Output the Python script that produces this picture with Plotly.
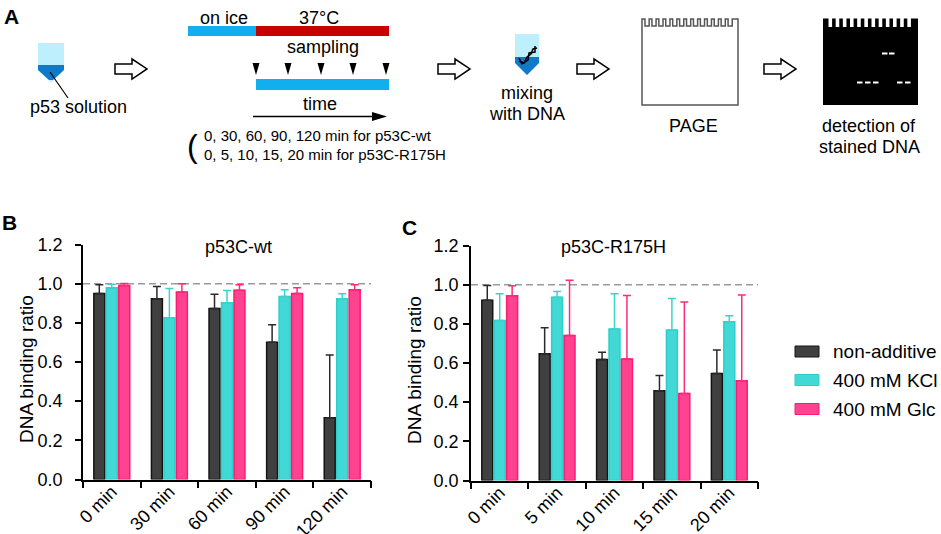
import plotly.graph_objects as go

# figure geometry (pixels) -- everything in panel A is placed in px then mapped to paper
W, H = 941, 534

# ---- data (panels B and C) ----
series_names = ["non-additive", "400 mM KCl", "400 mM Glc"]

cats_wt = ["0 min", "30 min", "60 min", "90 min", "120 min"]
cats_r175h = ["0 min", "5 min", "10 min", "15 min", "20 min"]

wt_non = [0.950, 0.923, 0.873, 0.701, 0.315]
wt_non_err = [0.044, 0.063, 0.073, 0.089, 0.321]
wt_kcl = [0.979, 0.826, 0.902, 0.934, 0.923]
wt_kcl_err = [0.018, 0.149, 0.063, 0.035, 0.026]
wt_glc = [0.991, 0.958, 0.967, 0.950, 0.969]
wt_glc_err = [0.010, 0.041, 0.027, 0.029, 0.026]

r175h_non = [0.921, 0.647, 0.618, 0.458, 0.546]
r175h_non_err = [0.075, 0.133, 0.037, 0.078, 0.121]
r175h_kcl = [0.817, 0.936, 0.774, 0.769, 0.811]
r175h_kcl_err = [0.136, 0.029, 0.179, 0.160, 0.030]
r175h_glc = [0.943, 0.740, 0.621, 0.444, 0.509]
r175h_glc_err = [0.051, 0.283, 0.324, 0.468, 0.438]

y_ticks = [0.0, 0.2, 0.4, 0.6, 0.8, 1.0, 1.2]

# styles
FILL = ["#404040", "#42D8D5", "#FF4390"]
EDGE = ["#141414", "#2CCFCB", "#FF1A70"]
ERR = ["#2a2a2a", "#3AD2CE", "#FF2A78"]
FONT = "Liberation Sans, Arial, sans-serif"


def px(x):
    return x / W


def py(y):
    return 1 - y / H


def path(points, close=True):
    s = "M" + " L".join(f"{px(x):.5f},{py(y):.5f}" for x, y in points)
    return s + (" Z" if close else "")


fig = go.Figure()

panels = [
    ("x", "y", cats_wt, [(wt_non, wt_non_err), (wt_kcl, wt_kcl_err), (wt_glc, wt_glc_err)]),
    ("x2", "y2", cats_r175h, [(r175h_non, r175h_non_err), (r175h_kcl, r175h_kcl_err),
                              (r175h_glc, r175h_glc_err)]),
]
for xa, ya, cats, series in panels:
    for i, (vals, errs) in enumerate(series):
        fig.add_trace(
            go.Bar(
                x=cats,
                y=vals,
                name=series_names[i],
                xaxis=xa,
                yaxis=ya,
                showlegend=False,
                marker=dict(color=FILL[i], line=dict(color=EDGE[i], width=1.5)),
                error_y=dict(
                    type="data",
                    symmetric=False,
                    array=errs,
                    arrayminus=[0] * len(errs),
                    color=ERR[i],
                    thickness=1.5,
                    width=4,
                ),
            )
        )

axis_common = dict(
    showline=True,
    linecolor="black",
    linewidth=1.5,
    ticks="outside",
    tickcolor="black",
    tickwidth=1.5,
    showgrid=False,
    zeroline=False,
    automargin=False,
    tickfont=dict(family=FONT, size=18, color="black"),
)
x_common = dict(type="category", tickson="boundaries", ticklen=7, tickangle=-45,
                range=[-0.5, 4.5], ticklabelshift=0, ticklabelstandoff=-7)

fig.update_layout(
    width=W,
    height=H,
    margin=dict(l=0, r=0, t=0, b=0),
    paper_bgcolor="white",
    plot_bgcolor="white",
    barmode="group",
    bargap=0.35,
    bargroupgap=0.12,
    font=dict(family=FONT, size=18, color="black"),
    xaxis=dict(domain=[px(83), px(371)], anchor="y", **x_common, **axis_common),
    yaxis=dict(domain=[py(479.5), py(244.5)], anchor="x", range=[0, 1.2], tickvals=y_ticks,
               tickformat=".1f", ticklen=6, ticklabelstandoff=9, **axis_common),
    xaxis2=dict(domain=[px(471), px(758)], anchor="y2", **x_common, **axis_common),
    yaxis2=dict(domain=[py(480.5), py(245.5)], anchor="x2", range=[0, 1.2], tickvals=y_ticks,
                tickformat=".1f", ticklen=6, ticklabelstandoff=1, **axis_common),
)

shapes = []
annots = []


def text(x, y, s, size=18, xanchor="center", bold=False, angle=0):
    annots.append(dict(
        x=px(x), y=py(y), xref="paper", yref="paper", text=f"<b>{s}</b>" if bold else s,
        showarrow=False, xanchor=xanchor, yanchor="middle", textangle=angle,
        font=dict(family=FONT, size=size, color="black"),
    ))


# dashed reference line at 1.0
for xr, yr in [("x domain", "y"), ("x2 domain", "y2")]:
    shapes.append(dict(type="line", xref=xr, yref=yr, x0=0, x1=1, y0=1.0, y1=1.0,
                       line=dict(color="#9a9a9a", width=1.5, dash="7px,4px"), layer="below"))

# panel B / C titles and y titles
text(238, 247, "p53C-wt")
text(613, 247, "p53C-R175H")
text(26, 369, "DNA binding ratio", size=19, angle=-90)
text(414, 370, "DNA binding ratio", size=19, angle=-90)

# custom legend (wide swatches)
for i, (name, yc) in enumerate(zip(series_names, [351.5, 380, 409])):
    shapes.append(dict(type="rect", xref="paper", yref="paper", x0=px(795), x1=px(819),
                       y0=py(yc + 5.5), y1=py(yc - 5.5), fillcolor=FILL[i],
                       line=dict(color=EDGE[i], width=1)))
    text(831, yc, name, size=19, xanchor="left")

# panel letters
text(11, 17, "A", size=21, bold=True)
text(9, 222, "B", size=21, bold=True)
text(409, 228, "C", size=21, bold=True)

# ---- panel A schematic ----
LIGHT = "#BDEFFD"
DARK = "#1079C8"
BLUE = "#12AFEF"
RED = "#C80000"

# tube with p53 solution
shapes.append(dict(type="path", xref="paper", yref="paper", fillcolor=LIGHT, line=dict(width=0),
                   path=path([(38, 43), (64, 43), (64, 70), (51, 83), (38, 70)])))
shapes.append(dict(type="path", xref="paper", yref="paper", fillcolor=DARK, line=dict(width=0),
                   path=path([(38, 65), (64, 65), (64, 70), (53, 80), (49, 80), (38, 70)])))
shapes.append(dict(type="line", xref="paper", yref="paper", x0=px(50), y0=py(72), x1=px(68),
                   y1=py(98), line=dict(color="black", width=1.2)))
text(78, 107, "p53 solution")


def block_arrow(x0):
    return dict(type="path", xref="paper", yref="paper", fillcolor="white",
                line=dict(color="black", width=1.5),
                path=path([(x0, 64), (x0 + 17, 64), (x0 + 17, 59), (x0 + 32, 69),
                           (x0 + 17, 79), (x0 + 17, 74), (x0, 74)]))


for ax0 in [115, 438, 577, 764]:
    shapes.append(block_arrow(ax0))

# temperature bars
shapes.append(dict(type="rect", xref="paper", yref="paper", x0=px(188), x1=px(256), y0=py(36),
                   y1=py(26), fillcolor=BLUE, line=dict(width=0)))
shapes.append(dict(type="rect", xref="paper", yref="paper", x0=px(256), x1=px(389), y0=py(36),
                   y1=py(26), fillcolor=RED, line=dict(width=0)))
text(224, 18, "on ice")
text(319, 18, "37°C")
text(323, 47, "sampling")
for tx in [256, 288, 321, 353, 386]:
    shapes.append(dict(type="path", xref="paper", yref="paper", fillcolor="black", line=dict(width=0),
                       path=path([(tx - 3.5, 63), (tx + 3.5, 63), (tx, 75)])))
shapes.append(dict(type="rect", xref="paper", yref="paper", x0=px(256), x1=px(389), y0=py(90),
                   y1=py(79), fillcolor=BLUE, line=dict(width=0)))
text(320, 104, "time")
shapes.append(dict(type="line", xref="paper", yref="paper", x0=px(253), y0=py(116.5), x1=px(374),
                   y1=py(116.5), line=dict(color="black", width=1.5)))
shapes.append(dict(type="path", xref="paper", yref="paper", fillcolor="black", line=dict(width=0),
                   path=path([(372, 112), (387, 116.5), (372, 121)])))
text(192, 146, "(", size=32, xanchor="center")
text(202, 135, "0, 30, 60, 90, 120 min for p53C-wt", size=15, xanchor="left")
text(202, 154, "0, 5, 10, 15, 20 min for p53C-R175H", size=15, xanchor="left")

# tube mixed with DNA
shapes.append(dict(type="path", xref="paper", yref="paper", fillcolor=LIGHT, line=dict(width=0),
                   path=path([(515, 34), (539, 34), (539, 63), (527, 75), (515, 63)])))
shapes.append(dict(type="path", xref="paper", yref="paper", fillcolor=DARK, line=dict(width=0),
                   path=path([(515, 57), (539, 57), (539, 63), (527, 75), (515, 63)])))
helix_a = [(519, 61), (524, 63), (527, 57), (531, 54), (533, 49), (537, 48)]
helix_b = [(519, 58), (522, 64), (528, 60), (529, 53), (535, 52), (535, 46)]
shapes.append(dict(type="path", xref="paper", yref="paper", line=dict(color="black", width=1.5),
                   path=path(helix_a, close=False)))
shapes.append(dict(type="path", xref="paper", yref="paper", line=dict(color="black", width=1.5),
                   path=path(helix_b, close=False)))
text(527, 93, "mixing")
text(527, 114, "with DNA")

# PAGE gel outline with comb wells
n_wells = 13
pitch = (735 - 645) / n_wells
gel = [(642, 105), (642, 19)]
for k in range(n_wells):
    a = 645 + k * pitch
    b = a + pitch * 0.6
    gel += [(a, 19), (a, 26), (b, 26), (b, 19)]
gel += [(738, 19), (738, 105)]
shapes.append(dict(type="path", xref="paper", yref="paper", fillcolor="white",
                   line=dict(color="#555555", width=1.5), path=path(gel)))
text(693, 126, "PAGE")

# stained gel
shapes.append(dict(type="rect", xref="paper", yref="paper", x0=px(823), x1=px(918), y0=py(105),
                   y1=py(18.5), fillcolor="black", line=dict(width=0)))
n_slots = 12
spitch = (913 - 827) / n_slots
for k in range(n_slots):
    a = 827 + k * spitch + 1.5
    shapes.append(dict(type="rect", xref="paper", yref="paper", x0=px(a), x1=px(a + 3.6),
                       y0=py(27), y1=py(18), fillcolor="white", line=dict(width=0)))
bands = [(882, 53.5), (889, 53.5), (857, 82.5), (865, 82.5), (873, 82.5), (897, 82.5), (905, 82.5)]
for bx, by in bands:
    shapes.append(dict(type="rect", xref="paper", yref="paper", x0=px(bx), x1=px(bx + 5.5),
                       y0=py(by + 1), y1=py(by - 1), fillcolor="white", line=dict(width=0)))
text(869, 126, "detection of")
text(869, 147, "stained DNA")

fig.update_layout(shapes=shapes, annotations=annots)

# page body has a default 8px margin; remove it so the figure sits at the window origin
fig.write_html("out.html", config={"displayModeBar": False},
               post_script="document.body.style.margin='0px';")
